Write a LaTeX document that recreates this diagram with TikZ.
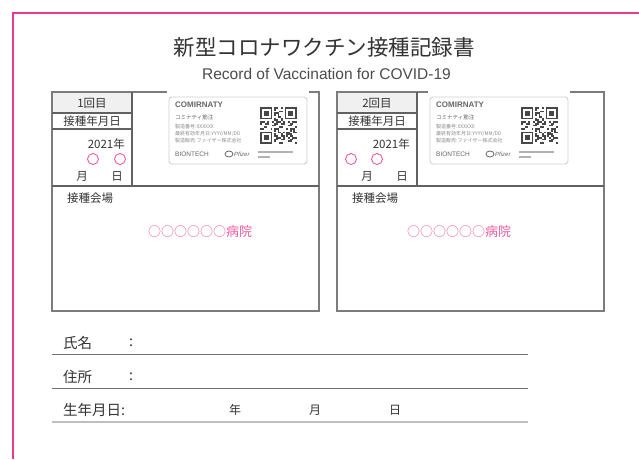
\documentclass[tikz,border=0pt]{standalone}
\usepackage{fontspec}
\setmainfont{Noto Sans CJK JP}
\newfontfamily\latinsans{Liberation Sans}
\usetikzlibrary{positioning}
\definecolor{markpink}{HTML}{E8388F}
\definecolor{circpink}{HTML}{F05A9E}
\definecolor{rulegray}{HTML}{7C7C7C}
\definecolor{inkgray}{HTML}{333333}
\definecolor{cellgray}{HTML}{F0F0F0}
\tikzset{
	frame/.style={draw=rulegray, line width=1.3pt},
	divider/.style={draw=black!62, line width=1.6pt},
	rowline/.style={draw=black!55, line width=1pt},
	label/.style={inner sep=0pt, text=inkgray, font=\fontsize{11.5}{12}\selectfont},
	field/.style={inner sep=0pt, anchor=west, text=inkgray, font=\fontsize{14.5}{15}\selectfont},
	hospital/.style={inner sep=0pt, text=circpink, font=\fontsize{13}{14}\selectfont},
	dot/.style={draw=circpink, line width=0.9pt},
	cardtext/.style={inner sep=0pt, anchor=west, text=black!60},
	% label sticker in the top right of each box
	vaxcard/.pic={
		\fill[white] (-2,-7) rectangle (140,-3);
		\draw[draw=black!18, line width=0.9pt, fill=white, rounded corners=3pt] (0,0) rectangle (138,67);
		\node (-brand) [cardtext, font=\latinsans\bfseries\fontsize{8}{9}\selectfont] at (6,8) {COMIRNATY};
		\node (-kana) [cardtext, font=\fontsize{5.5}{6}\selectfont] at (6,20) {コミナティ筋注};
		\node (-lot) [cardtext, text=black!45, font=\fontsize{5}{6}\selectfont] at (6,30) {製造番号:XXXXXX};
		\node (-exp) [cardtext, text=black!45, font=\fontsize{5}{6}\selectfont] at (6,37) {最終有効年月日:YYYY/MM/DD};
		\node (-maker) [cardtext, text=black!45, font=\fontsize{5}{6}\selectfont] at (6,44) {製造販売:ファイザー株式会社};
		\node (-bnt) [cardtext, font=\latinsans\fontsize{6.5}{7}\selectfont] at (6,57) {BIONTECH};
		\draw[black!60, line width=0.8pt] (60,57) ellipse (4 and 3);
		\node (-pfe) [cardtext, font=\latinsans\itshape\fontsize{6}{7}\selectfont] at (65,57.5) {Pfizer};
		\draw[black!30, line width=1.3pt] (89,55) -- (124,55);
		\draw[black!30, line width=1.3pt] (89,60) -- (101,60);
		% qr code
		\foreach \i in {0,...,20} {
			\foreach \j in {0,...,20} {
				\pgfmathtruncatemacro\skip{(\i<8 && \j<8) || (\i>12 && \j<8) || (\i<8 && \j>12)}
				\pgfmathtruncatemacro\bit{mod(\i*\i*\j+\j*\j*3+\i*7+\i*\j*5+\j,9)<4}
				\ifnum\skip=0 \ifnum\bit=1
					\fill[black!72] ({91+1.75*\i},{10+1.75*\j}) rectangle +(1.75,1.75);
				\fi\fi
			}
		}
		\foreach \u/\v in {0/0, 14/0, 0/14} {
			\fill[black!72] ({91+1.75*\u},{10+1.75*\v}) rectangle +(12.25,12.25);
			\fill[white] ({92.75+1.75*\u},{11.75+1.75*\v}) rectangle +(8.75,8.75);
			\fill[black!72] ({94.5+1.75*\u},{13.5+1.75*\v}) rectangle +(5.25,5.25);
		}
	},
}

\begin{document}
\begin{tikzpicture}[x=1pt, y=-1pt]
	\useasboundingbox (0,0) rectangle (639,459);
	\fill[white] (0,0) rectangle (639,459);
	\draw[markpink, line width=1.5pt] (13,459) -- (13,13) -- (639,13);
	
	\node (title) [inner sep=0pt, text=black!80, font=\fontsize{21.5}{23}\selectfont] at (324,47) {新型コロナワクチン接種記録書};
	\node (subtitle) [inner sep=0pt, text=black!70, font=\latinsans\fontsize{15.5}{16}\selectfont] at (326.5,74) {Record of Vaccination for COVID-19};
	
	% the two dose boxes
	\foreach \dx/\n/\ca/\cb/\cx/\hx in {0/1/93/120/169/200, 285/2/351/377/430/459} {
		\begin{scope}[xshift=\dx]
			\fill[cellgray] (52,92) rectangle (132,113);
			\draw[frame] (52,92) rectangle (319,311);
			\draw[divider] (52,186) -- (319,186);
			\draw[divider] (132,92) -- (132,186);
			\draw[divider] (52,113) -- (132,113);
			\draw[divider] (52,129) -- (132,129);
			\node (dose\n) [label] at (92,103) {\n 回目};
			\node (date\n) [label] at (92,121) {接種年月日};
			\node (year\n) [label, anchor=east] at (125,144) {2021年};
			\draw[dot] (\ca-\dx,159) circle (5.5);
			\draw[dot] (\cb-\dx,159) circle (5.5);
			\node (month\n) [label] at (82,176) {月};
			\node (day\n) [label] at (117,176) {日};
			\node (site\n) [label, anchor=west] at (67,198) {接種会場};
			\node (hosp\n) [hospital] at (\hx-\dx,232) {○○○○○○病院};
			\pic (card\n) at (\cx-\dx,97) {vaxcard};
		\end{scope}
	}
	
	% personal data rows
	\node (name) [field] at (63,343) {氏名};
	\node (namecolon) [field] at (129,343) {:};
	\node (addr) [field] at (63,377) {住所};
	\node (addrcolon) [field] at (129,377) {:};
	\node (birth) [field] at (63,410) {生年月日:};
	\node (byear) [label, font=\fontsize{12}{13}\selectfont] at (235,410) {年};
	\node (bmonth) [label, font=\fontsize{12}{13}\selectfont] at (315,410) {月};
	\node (bday) [label, font=\fontsize{12}{13}\selectfont] at (395,410) {日};
	\draw[rowline] (52,354) -- (528,354);
	\draw[rowline] (52,388) -- (528,388);
	\draw[rowline, draw=black!25, line width=1.3pt] (52,422) -- (528,422);
\end{tikzpicture}
\end{document}
